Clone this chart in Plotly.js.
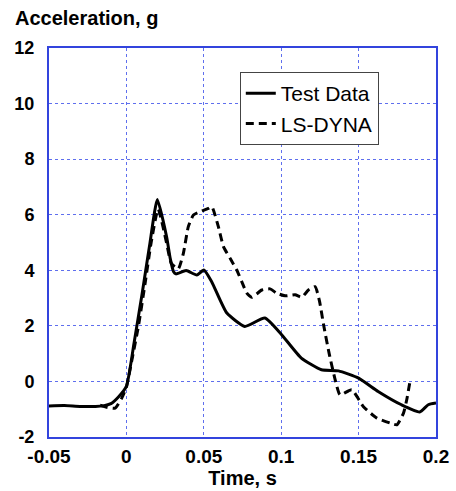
<!DOCTYPE html>
<html>
<head>
<meta charset="utf-8">
<script src="https://cdn.plot.ly/plotly-3.0.1.min.js"></script>
<style>
  html, body {margin: 0; padding: 0; background: #ffffff;}
  #Graph1 {width: 456px; height: 491px;}
</style>
</head>
<body>
<div id="Graph1"></div>
<script>
// values (time in s, acceleration in g)
var test_time = [-0.05, -0.04, -0.03, -0.02, -0.015, -0.01, -0.005, 0, 0.005, 0.01, 0.015, 0.02,
  0.026, 0.0283, 0.0305, 0.032, 0.0386, 0.0455, 0.05, 0.055, 0.0649, 0.0765, 0.0894, 0.1,
  0.113, 0.126, 0.137, 0.15, 0.1626, 0.1777, 0.1895, 0.195, 0.2]
var test_accel = [-0.88, -0.87, -0.9, -0.9, -0.88, -0.8, -0.55, -0.18, 1.4, 3.1, 4.9, 6.55,
  5.2, 4.43, 3.95, 3.87, 3.99, 3.83, 4.01, 3.6, 2.46, 1.98, 2.28, 1.7,
  0.84, 0.42, 0.38, 0.12, -0.36, -0.84, -1.1, -0.84, -0.78]

var dyna_time = [-0.017, -0.0127, -0.0073, -0.003, 0, 0.004, 0.0078, 0.012, 0.016, 0.0205,
  0.026, 0.029, 0.0335, 0.0368, 0.04, 0.0433, 0.0476, 0.053, 0.0552, 0.0594, 0.0627, 0.067,
  0.0713, 0.0745, 0.0778, 0.081, 0.0875, 0.0928, 0.097, 0.1025, 0.109, 0.1133, 0.1176, 0.1219,
  0.1247, 0.1275, 0.131, 0.1346, 0.138, 0.1456, 0.153, 0.1618, 0.1704, 0.1747, 0.179, 0.1811, 0.1833]
var dyna_accel = [-0.85, -0.93, -0.96, -0.6, -0.2, 0.9, 2.0, 3.5, 5.0, 6.2,
  4.97, 4.25, 4.05, 4.61, 5.57, 5.99, 6.11, 6.23, 6.29, 5.57, 4.85, 4.43,
  4.01, 3.59, 3.18, 3.03, 3.29, 3.33, 3.18, 3.08, 3.12, 3.03, 3.29, 3.41,
  2.9, 2.0, 1.0, 0.12, -0.48, -0.3, -0.9, -1.32, -1.5, -1.56, -1.14, -0.66, 0.04]

var x_ticks = [-0.05, 0, 0.05, 0.1, 0.15, 0.2]
var x_labels = ['-0.05', '0', '0.05', '0.1', '0.15', '0.2']
var y_ticks = [-2, 0, 2, 4, 6, 8, 10, 12]
var y_labels = ['-2', '0', '2', '4', '6', '8', '10', '12']

var trace1 = {
  x: test_time,
  y: test_accel,
  name: 'Test Data',
  type: 'scatter',
  mode: 'lines',
  line: {color: 'black', width: 3, shape: 'spline', smoothing: 0.5}
}

var trace2 = {
  x: dyna_time,
  y: dyna_accel,
  name: 'LS-DYNA',
  type: 'scatter',
  mode: 'lines',
  line: {color: 'black', width: 3, dash: '8px,5px', shape: 'spline', smoothing: 0.5}
}

var font_family = 'Arial, "Liberation Sans", sans-serif'

var layout = {
  width: 456,
  height: 491,
  margin: {l: 49, r: 20, t: 48, b: 54, pad: 0},
  paper_bgcolor: 'white',
  plot_bgcolor: 'white',
  showlegend: true,
  legend: {
    x: 0.493, y: 0.938, xanchor: 'left', yanchor: 'top',
    bgcolor: 'white', bordercolor: '#444444', borderwidth: 1,
    font: {family: font_family, size: 21, color: 'black'}
  },
  xaxis: {
    range: [-0.05, 0.2],
    tickvals: x_ticks,
    ticktext: x_labels,
    tickfont: {family: font_family, size: 19, color: 'black', weight: 'bold'},
    ticks: '',
    ticklabelstandoff: 1,
    showline: true, mirror: true, linecolor: '#3344dd', linewidth: 2,
    showgrid: true, gridcolor: '#5f6fee', gridwidth: 1, griddash: 'dot',
    zeroline: false,
    title: {text: 'Time, s', font: {family: font_family, size: 20, color: 'black', weight: 'bold'}, standoff: 0}
  },
  yaxis: {
    range: [-2, 12],
    tickvals: y_ticks,
    ticktext: y_labels,
    tickfont: {family: font_family, size: 18, color: 'black', weight: 'bold'},
    ticks: '',
    ticklabelstandoff: 9,
    showline: true, mirror: true, linecolor: '#3344dd', linewidth: 2,
    showgrid: true, gridcolor: '#5f6fee', gridwidth: 1, griddash: 'dot',
    zeroline: false
  },
  annotations: [{
    text: 'Acceleration, g',
    xref: 'paper', yref: 'paper',
    x: -0.093, y: 1.076, xanchor: 'left', yanchor: 'middle',
    showarrow: false,
    font: {family: font_family, size: 20, color: 'black', weight: 'bold'}
  }]
}

Plotly.newPlot('Graph1', [trace1, trace2], layout, {displayModeBar: false, staticPlot: true})
</script>
</body>
</html>
